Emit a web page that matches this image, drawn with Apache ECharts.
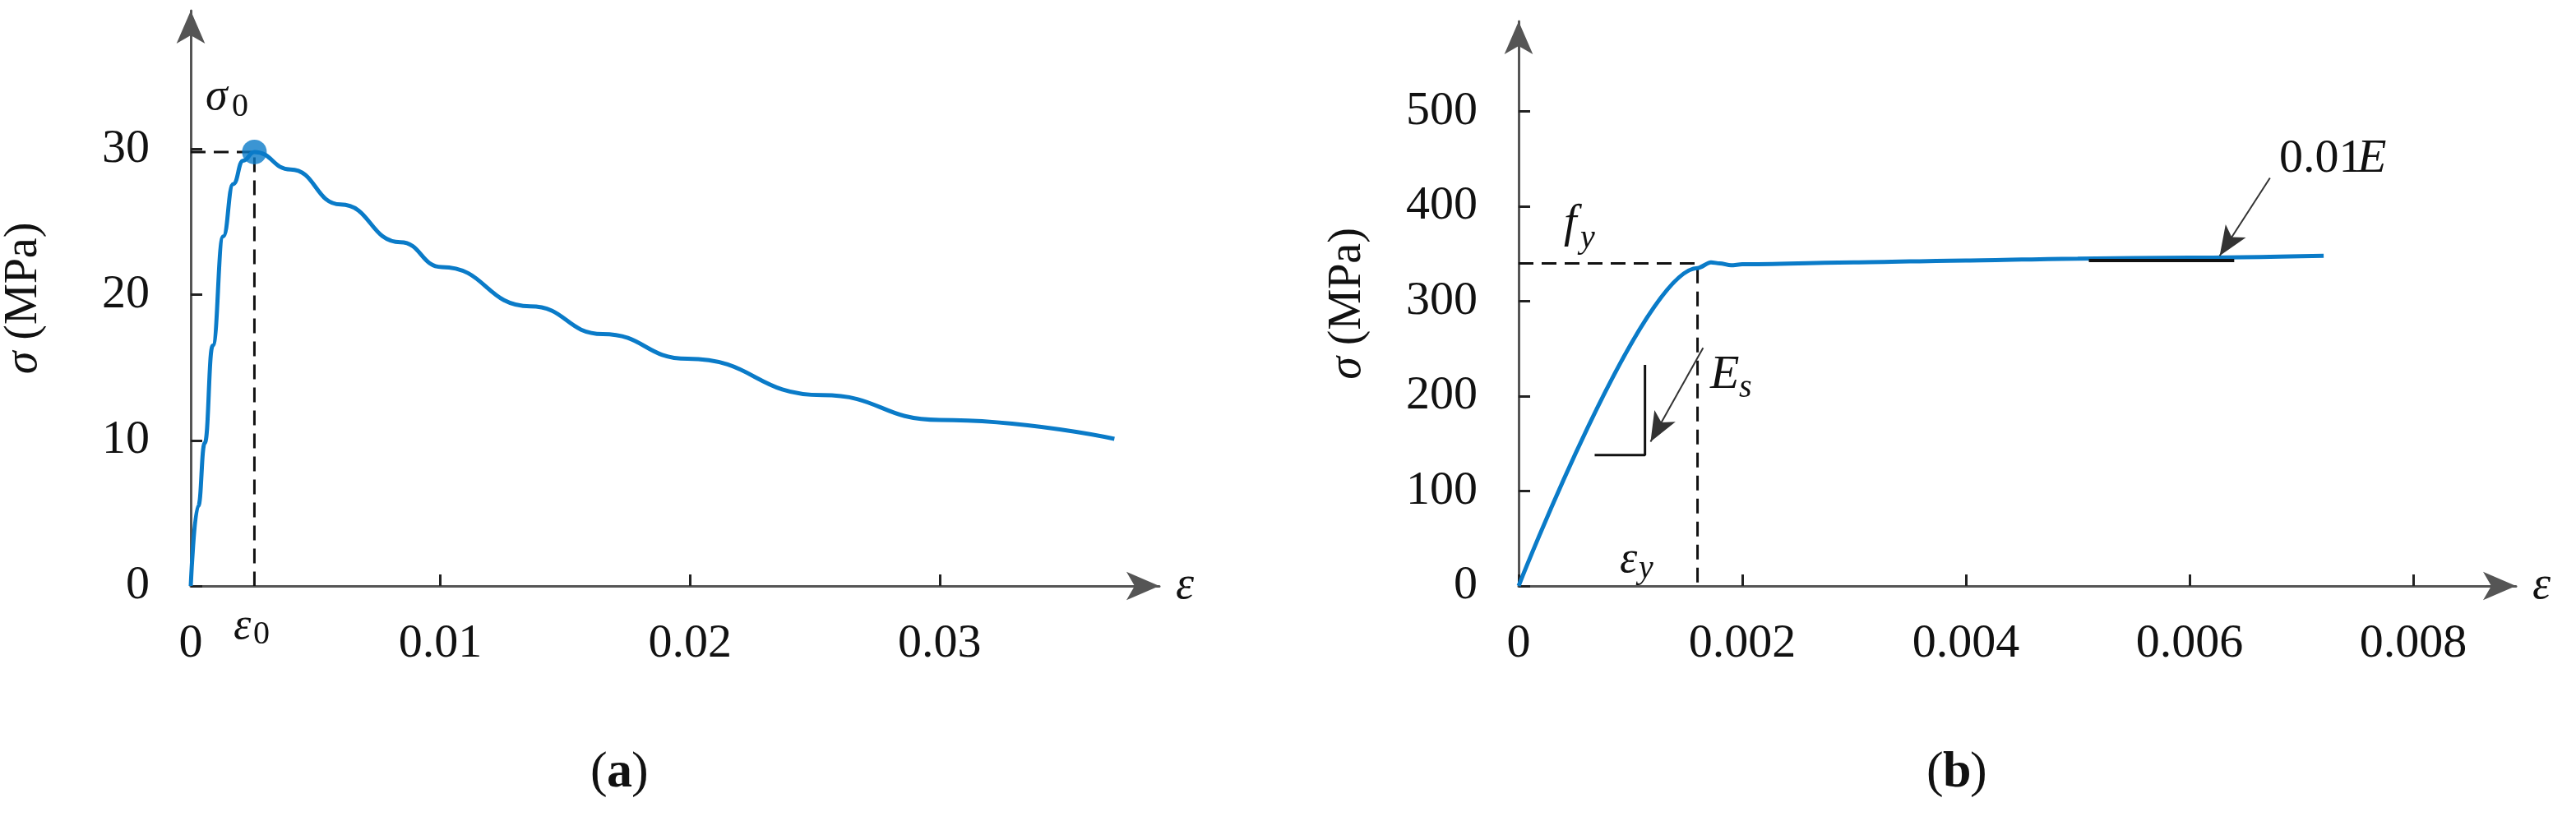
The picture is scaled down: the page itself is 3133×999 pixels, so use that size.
<!DOCTYPE html>
<html><head><meta charset="utf-8">
<script src="https://cdn.jsdelivr.net/npm/echarts@6/dist/echarts.min.js"></script>
<style>html,body{margin:0;padding:0;background:#fff}#c{width:3133px;height:999px}</style>
</head><body><div id="c"></div>
<script>
// Concrete (a)
const concreteStrain = [0, 0.0003, 0.00056, 0.00088, 0.0013, 0.0017, 0.0021, 0.00255, 0.0040, 0.0060, 0.0084, 0.01006, 0.0136, 0.0165, 0.0199, 0.0253, 0.030, 0.037];
const concreteStress = [0, 5.5, 9.8, 16.5, 24.0, 27.6, 29.2, 29.8, 28.6, 26.2, 23.6, 21.9, 19.2, 17.3, 15.6, 13.1, 11.4, 10.1];
const peakPoint = [0.00255, 29.8];
// Steel (b)
const steelStrain = [0, 0.0016, 0.00172, 0.0018, 0.0019, 0.002, 0.003, 0.004, 0.005, 0.006, 0.0072];
const steelStress = [0, 335, 341, 340, 338, 339, 341, 343, 345, 346, 348];
const fy = 340, epsY = 0.0016;
const slopeTriangle = [[0.00068, 138], [0.00113, 138], [0.00113, 233]];
const hardeningSeg = [[0.0051, 343], [0.0064, 343]];

const serif = 'Liberation Serif';
const axisCol = '#555';
const blue = '#0a7bc8';
const pair = (xs, ys) => xs.map((x, i) => [x, ys[i]]);
const fmt = v => v === 0 ? '0' : String(+v.toFixed(4));

function xAxis(idx, max, interval) {
  return {
    type: 'value', gridIndex: idx, min: 0, max: max, interval: interval,
    splitLine: {show: false},
    axisLine: {onZero: false, symbol: ['none', 'arrow'], symbolSize: [26, 40], lineStyle: {color: axisCol, width: 3}},
    axisTick: {inside: true, length: 14, lineStyle: {color: '#222', width: 3}},
    axisLabel: {showMaxLabel: false, fontFamily: serif, fontSize: 58, color: '#111', margin: 42, formatter: fmt},
    name: 'ε', nameLocation: 'end', nameGap: 20,
    nameTextStyle: {fontFamily: serif, fontStyle: 'italic', fontSize: 56, color: '#111', padding: [60, 0, 0, 0]}
  };
}
function yAxis(idx, max, interval, gap) {
  return {
    type: 'value', gridIndex: idx, min: 0, max: max, interval: interval,
    splitLine: {show: false},
    axisLine: {onZero: false, symbol: ['none', 'arrow'], symbolSize: [26, 40], lineStyle: {color: axisCol, width: 3}},
    axisTick: {inside: true, length: 14, lineStyle: {color: '#222', width: 3}},
    axisLabel: {showMaxLabel: false, fontFamily: serif, fontSize: 58, color: '#111', margin: 50},
    name: '{i|σ} (MPa)', nameLocation: 'middle', nameRotate: 90, nameGap: gap,
    nameTextStyle: {fontFamily: serif, fontSize: 56, color: '#111', rich: {i: {fontFamily: serif, fontStyle: 'italic', fontSize: 56}}}
  };
}
const dash = {color: '#111', width: 3, type: [18, 10]};
const solid = {color: '#111', width: 3};

const chart = echarts.init(document.getElementById('c'));
chart.setOption({
  animation: false,
  grid: [
    {left: 223, top: 13, width: 1187, height: 700},
    {left: 1847, top: 26, width: 1213, height: 687}
  ],
  xAxis: [xAxis(0, 0.0388, 0.01), xAxis(1, 0.00892, 0.002)],
  yAxis: [yAxis(0, 39.5, 10, 175), yAxis(1, 595, 100, 180)],
  series: [
    {type: 'line', xAxisIndex: 0, yAxisIndex: 0, data: [[0, peakPoint[1]], peakPoint, [peakPoint[0], 0]], symbol: 'none', lineStyle: dash, z: 1},
    {type: 'line', xAxisIndex: 0, yAxisIndex: 0, data: pair(concreteStrain, concreteStress), smooth: 0.5, smoothMonotone: 'x', symbol: 'none', lineStyle: {color: blue, width: 5}, z: 3},
    {type: 'scatter', xAxisIndex: 0, yAxisIndex: 0, data: [peakPoint], symbolSize: 30, itemStyle: {color: blue}, z: 4},
    {type: 'line', xAxisIndex: 1, yAxisIndex: 1, data: [[0, fy], [epsY, fy], [epsY, 0]], symbol: 'none', lineStyle: dash, z: 1},
    {type: 'line', xAxisIndex: 1, yAxisIndex: 1, data: pair(steelStrain, steelStress), smooth: 0.3, smoothMonotone: 'x', symbol: 'none', lineStyle: {color: blue, width: 5}, z: 3},
    {type: 'line', xAxisIndex: 1, yAxisIndex: 1, data: slopeTriangle, symbol: 'none', lineStyle: solid, z: 2},
    {type: 'line', xAxisIndex: 1, yAxisIndex: 1, data: hardeningSeg, symbol: 'none', lineStyle: {color: '#111', width: 4}, z: 4,
      markLine: {silent: true, symbol: ['none', 'arrow'], symbolSize: [22, 36], label: {show: false}, lineStyle: {color: '#333', width: 2, type: 'solid'},
        data: [
          [{coord: [0.00165, 251]}, {coord: [0.00118, 152]}],
          [{coord: [0.00672, 430]}, {coord: [0.00627, 348]}]
        ]}}
  ],
  graphic: [
    {type: 'text', left: 250, top: 92, style: {text: 'σ', font: 'italic 54px "Liberation Serif"', fill: '#111'}},
    {type: 'text', left: 282, top: 110, style: {text: '0', font: '40px "Liberation Serif"', fill: '#111'}},
    {type: 'text', left: 284, top: 736, style: {text: 'ε', font: 'italic 54px "Liberation Serif"', fill: '#111'}},
    {type: 'text', left: 308, top: 752, style: {text: '0', font: '40px "Liberation Serif"', fill: '#111'}},
    {type: 'text', left: 1902, top: 245, style: {text: 'f', font: 'italic 56px "Liberation Serif"', fill: '#111'}},
    {type: 'text', left: 1922, top: 270, style: {text: 'y', font: 'italic 40px "Liberation Serif"', fill: '#111'}},
    {type: 'text', left: 1970, top: 655, style: {text: 'ε', font: 'italic 54px "Liberation Serif"', fill: '#111'}},
    {type: 'text', left: 1993, top: 672, style: {text: 'y', font: 'italic 40px "Liberation Serif"', fill: '#111'}},
    {type: 'text', left: 2080, top: 428, style: {text: 'E', font: 'italic 58px "Liberation Serif"', fill: '#111'}},
    {type: 'text', left: 2115, top: 452, style: {text: 's', font: 'italic 40px "Liberation Serif"', fill: '#111'}},
    {type: 'text', left: 2772, top: 165, style: {text: '0.01', font: '58px "Liberation Serif"', fill: '#111'}},
    {type: 'text', left: 2867, top: 165, style: {text: 'E', font: 'italic 58px "Liberation Serif"', fill: '#111'}},
    {type: 'text', left: 718, top: 910, style: {text: '(', font: '62px "Liberation Serif"', fill: '#111'}},
    {type: 'text', left: 738, top: 910, style: {text: 'a', font: 'bold 62px "Liberation Serif"', fill: '#111'}},
    {type: 'text', left: 768, top: 910, style: {text: ')', font: '62px "Liberation Serif"', fill: '#111'}},
    {type: 'text', left: 2343, top: 910, style: {text: '(', font: '62px "Liberation Serif"', fill: '#111'}},
    {type: 'text', left: 2363, top: 910, style: {text: 'b', font: 'bold 62px "Liberation Serif"', fill: '#111'}},
    {type: 'text', left: 2396, top: 910, style: {text: ')', font: '62px "Liberation Serif"', fill: '#111'}}
  ]
});
</script></body></html>
